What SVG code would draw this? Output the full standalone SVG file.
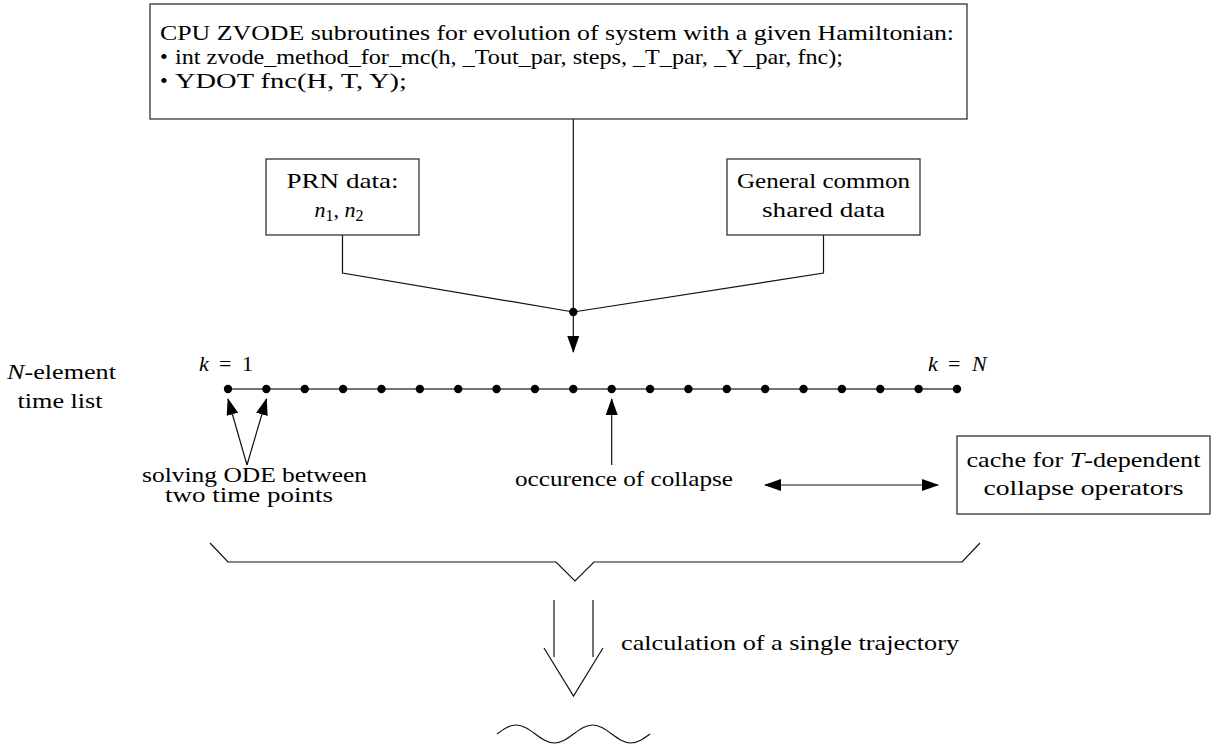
<svg xmlns="http://www.w3.org/2000/svg" width="1224" height="746" viewBox="0 0 1224 746">
<style>
  text { font-family: "Liberation Serif", "DejaVu Serif", serif; font-size: 22px; fill: #000; }
  .it { font-style: italic; }
  .box { fill: #fff; stroke: #333; stroke-width: 1.3; }
  .ln { fill: none; stroke: #111; stroke-width: 1.2; }
  .tl { fill: none; stroke: #444; stroke-width: 1.3; }
  .dot { fill: #000; }
</style>
<defs>
  <marker id="ah" markerUnits="userSpaceOnUse" markerWidth="18" markerHeight="12" refX="16" refY="6" orient="auto-start-reverse">
    <path d="M0,0 L17,6 L0,12 z" fill="#000"/>
  </marker>
</defs>
<rect width="1224" height="746" fill="#fff"/>

<g id="connectors">
  <line class="ln" x1="573.3" y1="119" x2="573.3" y2="312"/>
  <polyline class="ln" points="342.5,235 342.5,273 573.3,312"/>
  <polyline class="ln" points="823.5,235 823.5,273 573.3,312"/>
  <circle class="dot" cx="573.3" cy="312" r="4.2"/>
  <line class="ln" x1="573.3" y1="312" x2="573.3" y2="352" marker-end="url(#ah)"/>
  <line class="ln" x1="247" y1="465" x2="228" y2="399" marker-end="url(#ah)"/>
  <line class="ln" x1="247" y1="465" x2="266.4" y2="399" marker-end="url(#ah)"/>
  <line class="ln" x1="611.7" y1="465" x2="611.7" y2="399" marker-end="url(#ah)"/>
  <line class="ln" x1="765" y1="485" x2="938" y2="485" marker-start="url(#ah)" marker-end="url(#ah)"/>
  <polyline class="ln" points="210,543 228,562 556,562 575,581 594,562 962,562 980,543"/>
  <line class="ln" x1="554" y1="600" x2="554" y2="657"/>
  <line class="ln" x1="593" y1="600" x2="593" y2="657"/>
  <polyline class="ln" points="544,648 573.5,696 603,648"/>
  <path class="ln" d="M497,734 c6.4,-4.7 12.25,-9 19.125,-9 s12.725,4.3 19.125,9 s12.25,9 19.125,9 s12.725,-4.3 19.125,-9 s12.25,-9 19.125,-9 s12.725,4.3 19.125,9 s12.25,9 19.125,9 s12.725,-4.3 19.125,-9"/>
</g>

<g id="node-cpu">
  <rect class="box" x="150" y="4" width="817" height="115"/>
  <text x="160" y="40" textLength="794" lengthAdjust="spacingAndGlyphs">CPU ZVODE subroutines for evolution of system with a given Hamiltonian:</text>
  <text x="160" y="64">•</text>
  <text x="175" y="64" textLength="668" lengthAdjust="spacingAndGlyphs">int zvode_method_for_mc(h, _Tout_par, steps, _T_par, _Y_par, fnc);</text>
  <text x="160" y="88">•</text>
  <text x="175" y="88" textLength="232" lengthAdjust="spacingAndGlyphs">YDOT fnc(H, T, Y);</text>
</g>

<g id="node-prn">
  <rect class="box" x="266" y="159" width="153" height="76"/>
  <text x="342.5" y="188" text-anchor="middle" textLength="112" lengthAdjust="spacingAndGlyphs">PRN data:</text>
  <text x="339" y="217" text-anchor="middle" font-size="23"><tspan class="it">n</tspan><tspan font-size="16" dy="4">1</tspan><tspan dy="-4">, </tspan><tspan class="it">n</tspan><tspan font-size="16" dy="4">2</tspan></text>
</g>

<g id="node-general">
  <rect class="box" x="727" y="159" width="193" height="76"/>
  <text x="823.5" y="188" text-anchor="middle" textLength="173" lengthAdjust="spacingAndGlyphs">General common</text>
  <text x="823.5" y="217" text-anchor="middle" textLength="123" lengthAdjust="spacingAndGlyphs">shared data</text>
</g>

<g id="node-timelist">
  <text x="61.5" y="379" text-anchor="middle" textLength="109" lengthAdjust="spacingAndGlyphs"><tspan class="it">N</tspan>-element</text>
  <text x="60" y="408" text-anchor="middle" textLength="85" lengthAdjust="spacingAndGlyphs">time list</text>
  <text y="371" font-size="23"><tspan class="it" x="199">k</tspan><tspan x="219">=</tspan><tspan x="242">1</tspan></text>
  <text y="371" font-size="23"><tspan class="it" x="928">k</tspan><tspan x="948">=</tspan><tspan class="it" x="972">N</tspan></text>
  <line class="tl" x1="228" y1="389" x2="957" y2="389"/>
  <g class="dot">
    <circle cx="228" cy="389" r="4.2"/>
    <circle cx="266.37" cy="389" r="4.2"/>
    <circle cx="304.74" cy="389" r="4.2"/>
    <circle cx="343.1" cy="389" r="4.2"/>
    <circle cx="381.47" cy="389" r="4.2"/>
    <circle cx="419.84" cy="389" r="4.2"/>
    <circle cx="458.21" cy="389" r="4.2"/>
    <circle cx="496.58" cy="389" r="4.2"/>
    <circle cx="534.94" cy="389" r="4.2"/>
    <circle cx="573.31" cy="389" r="4.2"/>
    <circle cx="611.68" cy="389" r="4.2"/>
    <circle cx="650.05" cy="389" r="4.2"/>
    <circle cx="688.42" cy="389" r="4.2"/>
    <circle cx="726.78" cy="389" r="4.2"/>
    <circle cx="765.15" cy="389" r="4.2"/>
    <circle cx="803.52" cy="389" r="4.2"/>
    <circle cx="841.89" cy="389" r="4.2"/>
    <circle cx="880.26" cy="389" r="4.2"/>
    <circle cx="918.62" cy="389" r="4.2"/>
    <circle cx="957" cy="389" r="4.2"/>
  </g>
</g>

<g id="label-ode">
  <text x="254.5" y="482" text-anchor="middle" font-size="20" textLength="225" lengthAdjust="spacingAndGlyphs">solving ODE between</text>
  <text x="249" y="502" text-anchor="middle" font-size="20" textLength="168" lengthAdjust="spacingAndGlyphs">two time points</text>
</g>

<g id="label-collapse">
  <text x="515" y="486" textLength="218" lengthAdjust="spacingAndGlyphs">occurence of collapse</text>
</g>

<g id="node-cache">
  <rect class="box" x="957" y="436" width="253" height="78"/>
  <text x="1083.5" y="467" text-anchor="middle" textLength="234" lengthAdjust="spacingAndGlyphs">cache for <tspan class="it">T</tspan>-dependent</text>
  <text x="1083.5" y="495" text-anchor="middle" textLength="200" lengthAdjust="spacingAndGlyphs">collapse operators</text>
</g>

<g id="label-trajectory">
  <text x="621" y="650" textLength="338" lengthAdjust="spacingAndGlyphs">calculation of a single trajectory</text>
</g>
</svg>
